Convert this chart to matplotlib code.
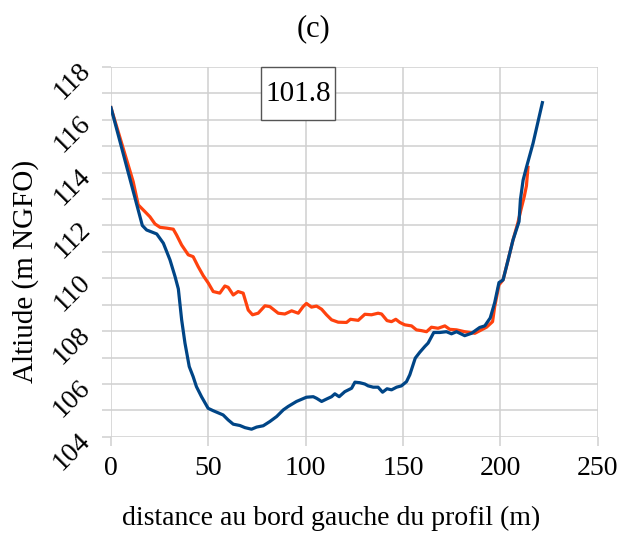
import matplotlib
matplotlib.use('Agg')
import matplotlib.pyplot as plt
from matplotlib.patches import Rectangle
from matplotlib.ticker import MultipleLocator

plt.rcParams['font.family'] = ['Liberation Serif', 'DejaVu Serif']

# profil actuel (bleu)
dist_bleu = [0, 16.1, 18.3, 23.5, 26.9, 30.3, 32.9, 34.6, 36.3, 38.0, 40.2, 42.2, 43.9,
             46.5, 49.9, 52.5, 57.6, 60.2, 62.8, 66.2, 68.8, 72.2, 74.8, 78.2, 81.6,
             85.1, 88.5, 91.0, 95.3, 100.4, 103.9, 105.6, 108.2, 110.7, 113.3, 115.0,
             117.2, 120.1, 123.6, 125.3, 127.8, 130.4, 132.1, 134.7, 137.2, 139.5,
             141.8, 144.1, 146.7, 149.2, 151.8, 153.5, 156.3, 158.6, 161.2, 162.9,
             165.8, 168.9, 172.3, 174.9, 177.5, 181.7, 185.2, 189.4, 192.0, 194.8,
             197.1, 199.3, 201.4, 204.0, 206.5, 209.6, 210.3, 211.7, 213.4, 216.8, 221.6]
alt_bleu = [116.46, 112.0, 111.83, 111.68, 111.33, 110.7, 110.07, 109.6, 108.43, 107.55,
            106.66, 106.28, 105.9, 105.52, 105.08, 104.99, 104.83, 104.64, 104.48, 104.43,
            104.35, 104.29, 104.37, 104.42, 104.58, 104.77, 105.02, 105.15, 105.34, 105.5,
            105.52, 105.46, 105.34, 105.43, 105.52, 105.63, 105.52, 105.71, 105.84, 106.07,
            106.05, 106.0, 105.93, 105.88, 105.88, 105.69, 105.82, 105.78, 105.88, 105.93,
            106.09, 106.35, 106.98, 107.2, 107.42, 107.55, 107.95, 107.95, 107.98, 107.9,
            107.98, 107.83, 107.92, 108.14, 108.2, 108.5, 109.08, 109.84, 109.94, 110.7,
            111.45, 112.15, 112.97, 113.72, 114.2, 115.11, 116.65]

# profil simulé (orange)
dist_orange = [0, 11.4, 14.0, 17.5, 20.0, 22.6, 25.2, 28.6, 32.0, 33.7, 36.3, 39.7, 42.2,
               44.8, 47.4, 50.0, 52.5, 55.9, 58.5, 60.2, 62.8, 65.3, 67.9, 70.5, 72.7,
               75.6, 79.1, 81.6, 85.9, 89.3, 92.8, 96.2, 98.7, 100.4, 103.0, 105.6, 108.2,
               110.7, 113.3, 116.7, 121.0, 123.0, 127.0, 130.4, 133.8, 137.2, 139.0,
               141.8, 144.1, 146.3, 148.4, 150.9, 154.4, 156.9, 159.5, 162.1, 164.6,
               168.0, 171.5, 174.0, 177.5, 181.7, 186.9, 190.3, 192.9, 196.0, 197.1,
               199.3, 201.4, 204.0, 206.5, 209.0, 210.6, 212.3, 213.4, 214.2]
alt_orange = [116.46, 113.66, 112.78, 112.52, 112.33, 112.06, 111.93, 111.9, 111.86, 111.64,
              111.26, 110.89, 110.82, 110.44, 110.1, 109.82, 109.5, 109.44, 109.71, 109.66,
              109.37, 109.5, 109.44, 108.8, 108.62, 108.68, 108.96, 108.93, 108.68, 108.65,
              108.77, 108.68, 108.93, 109.05, 108.91, 108.95, 108.83, 108.62, 108.43, 108.34,
              108.33, 108.45, 108.41, 108.64, 108.62, 108.68, 108.65, 108.4, 108.36, 108.45,
              108.33, 108.24, 108.2, 108.05, 108.02, 107.98, 108.15, 108.11, 108.2, 108.07,
              108.05, 107.98, 107.92, 108.05, 108.15, 108.36, 108.93, 109.75, 109.94, 110.7,
              111.45, 112.1, 112.6, 113.1, 113.5, 114.2]

fig = plt.figure(figsize=(6.2, 5.4), dpi=100)
ax = fig.add_axes([0.179, 0.191, 0.785, 0.685])

ax.plot(dist_orange, alt_orange, color='#ff420e', lw=2.3, zorder=3)
ax.plot(dist_bleu, alt_bleu, color='#004586', lw=2.3, zorder=4)

ax.set_xlim(0, 250)
ax.set_ylim(104, 118)
ax.xaxis.set_major_locator(MultipleLocator(50))
ax.yaxis.set_major_locator(MultipleLocator(2))
ax.yaxis.set_minor_locator(MultipleLocator(1))

ax.grid(True, which='both', color='#d0d0d0', lw=1.1)
ax.set_axisbelow(True)
for s in ax.spines.values():
    s.set_visible(False)
ax.tick_params(which='both', color='#d0d0d0', length=6.5, width=1.1)
ax.tick_params(axis='x', labelsize=20, pad=7)
ax.tick_params(axis='y', labelsize=20, pad=11)
for lab in ax.get_yticklabels():
    lab.set_rotation(45)
    lab.set_rotation_mode('anchor')
    lab.set_ha('right')
    lab.set_va('center')

ax.set_xlabel('distance au bord gauche du profil (m)', fontsize=20, labelpad=18, x=0.452)
ax.set_ylabel('Altiude (m NGFO)', fontsize=21)
ax.yaxis.set_label_coords(-0.148, 0.447)
ax.set_title('(c)', fontsize=22, pad=22, x=0.417)

# cadre avec la valeur
ax.add_patch(Rectangle((0.309, 0.857), 0.152, 0.143, transform=ax.transAxes,
                       fc='white', ec='#555555', lw=1.0, zorder=5, clip_on=False))
ax.text(0.385, 0.927, '101.8', transform=ax.transAxes, fontsize=21,
        ha='center', va='center', zorder=6)

fig.savefig('out.png', dpi=100)
